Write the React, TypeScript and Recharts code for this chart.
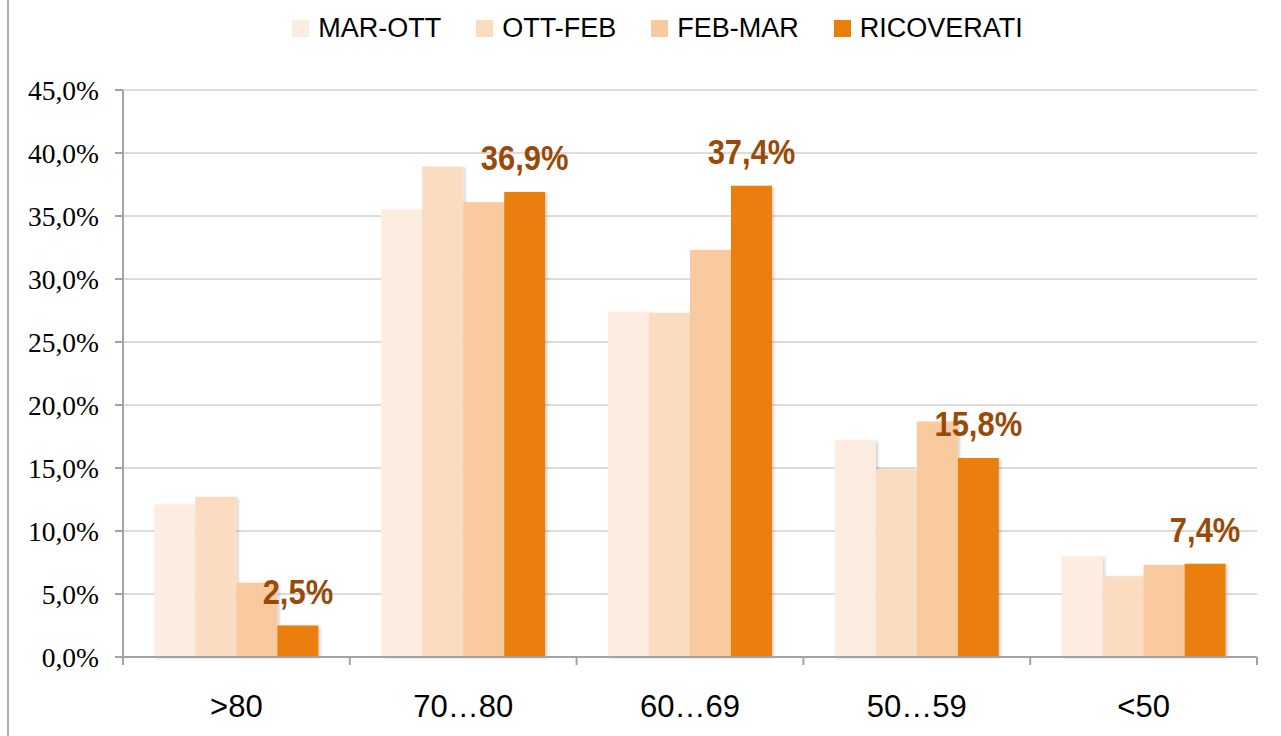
import React from "react";
import { BarChart, Bar, XAxis, YAxis, CartesianGrid, LabelList } from "recharts";

const categories = [">80", "70…80", "60…69", "50…59", "<50"];
const marOtt = [12.1, 35.5, 27.4, 17.2, 8.0];
const ottFeb = [12.7, 38.9, 27.3, 14.9, 6.4];
const febMar = [5.9, 36.1, 32.3, 18.7, 7.3];
const ricoverati = [2.5, 36.9, 37.4, 15.8, 7.4];
const yTicks = [0, 5, 10, 15, 20, 25, 30, 35, 40, 45];

const seriesNames = ["MAR-OTT", "OTT-FEB", "FEB-MAR", "RICOVERATI"];
const seriesKeys = ["marOtt", "ottFeb", "febMar", "ricoverati"];
const seriesColors = ["#FDEDE0", "#FBDCC1", "#F9CAA0", "#EA7F07"];

const data = categories.map((c, i) => ({
  cat: c,
  marOtt: marOtt[i],
  ottFeb: ottFeb[i],
  febMar: febMar[i],
  ricoverati: ricoverati[i],
}));

const W = 1281;
const H = 736;
const MARGIN = { top: 90, right: 24, left: 23, bottom: 19 };
const YAXIS_W = 100;
const XAXIS_H = 60;
const BAND = (W - MARGIN.left - YAXIS_W - MARGIN.right) / categories.length;
const AXIS_COLOR = "#a3a3a3";
const GRID_COLOR = "#b8b8b8";
const SANS = "'Liberation Sans', Arial, sans-serif";
const SERIF = "'Liberation Serif', 'Times New Roman', serif";

const fmt = (v: number) => v.toFixed(1).replace(".", ",") + "%";

const XTick = (props: any) => {
  const { x, y, payload, index } = props;
  const half = BAND / 2;
  return (
    <g>
      <line x1={x - half} y1={y} x2={x - half} y2={y + 8} stroke={AXIS_COLOR} strokeWidth={2} />
      {index === categories.length - 1 && (
        <line x1={x + half} y1={y} x2={x + half} y2={y + 8} stroke={AXIS_COLOR} strokeWidth={2} />
      )}
      <text x={x} y={y + 60} textAnchor="middle" fontFamily={SANS} fontSize={31} fill="#000">
        {payload.value}
      </text>
    </g>
  );
};

const ValueLabel = (props: any) => {
  const { x, y, width, value } = props;
  const cx = Number(x) + Number(width) / 2;
  const by = Number(y) - 22;
  return (
    <text
      transform={`translate(${cx}, ${by}) scale(0.86, 1)`}
      x={0}
      y={0}
      textAnchor="middle"
      fontFamily={SANS}
      fontWeight="bold"
      fontSize={36}
      fill="#9A4A08"
    >
      {fmt(Number(value))}
    </text>
  );
};

export default function App() {
  return (
    <div
      style={{
        position: "absolute",
        left: 0,
        top: 0,
        width: W,
        height: H,
        overflow: "hidden",
        background: "#fff",
      }}
    >
      <div
        style={{
          position: "absolute",
          left: 7,
          top: 0,
          width: 2,
          height: H,
          background: "#b0b0b0",
        }}
      />
      <div
        style={{
          position: "absolute",
          left: 0,
          top: 14,
          width: 1315,
          display: "flex",
          justifyContent: "center",
          alignItems: "center",
          fontFamily: SANS,
          fontSize: 27,
          lineHeight: "28px",
          color: "#000",
        }}
      >
        {seriesNames.map((n, i) => (
          <div
            key={n}
            style={{
              display: "flex",
              alignItems: "center",
              marginLeft: i === 0 ? 0 : 35,
            }}
          >
            <div
              style={{
                width: 17,
                height: 17,
                background: seriesColors[i],
                marginRight: 9,
              }}
            />
            <span>{n}</span>
          </div>
        ))}
      </div>
      <div style={{ position: "absolute", left: 0, top: 0 }}>
        <BarChart
          width={W}
          height={H}
          data={data}
          margin={MARGIN}
          barCategoryGap="13.85%"
          barGap={0}
        >
          <defs>
            <filter id="barShadow" x="-10%" y="-10%" width="130%" height="130%">
              <feDropShadow dx="2" dy="1" stdDeviation="1.5" floodColor="#000" floodOpacity="0.18" />
            </filter>
          </defs>
          <CartesianGrid vertical={false} stroke={GRID_COLOR} strokeWidth={1} />
          <XAxis
            dataKey="cat"
            height={XAXIS_H}
            tickSize={0}
            tickMargin={0}
            tickLine={false}
            axisLine={{ stroke: AXIS_COLOR, strokeWidth: 2 }}
            tick={<XTick />}
            interval={0}
          />
          <YAxis
            width={YAXIS_W}
            domain={[0, 45]}
            ticks={yTicks}
            interval={0}
            tickFormatter={fmt}
            tickSize={8}
            tickMargin={16}
            tickLine={{ stroke: AXIS_COLOR, strokeWidth: 2 }}
            axisLine={{ stroke: AXIS_COLOR, strokeWidth: 2 }}
            tick={{ fontFamily: SERIF, fontSize: 27.5, fill: "#000" }}
          />
          {seriesKeys.map((k, i) => (
            <Bar
              key={k}
              dataKey={k}
              name={seriesNames[i]}
              fill={seriesColors[i]}
              isAnimationActive={false}
              style={{ filter: "url(#barShadow)" }}
            >
              {k === "ricoverati" && <LabelList dataKey={k} content={<ValueLabel />} />}
            </Bar>
          ))}
        </BarChart>
      </div>
    </div>
  );
}
